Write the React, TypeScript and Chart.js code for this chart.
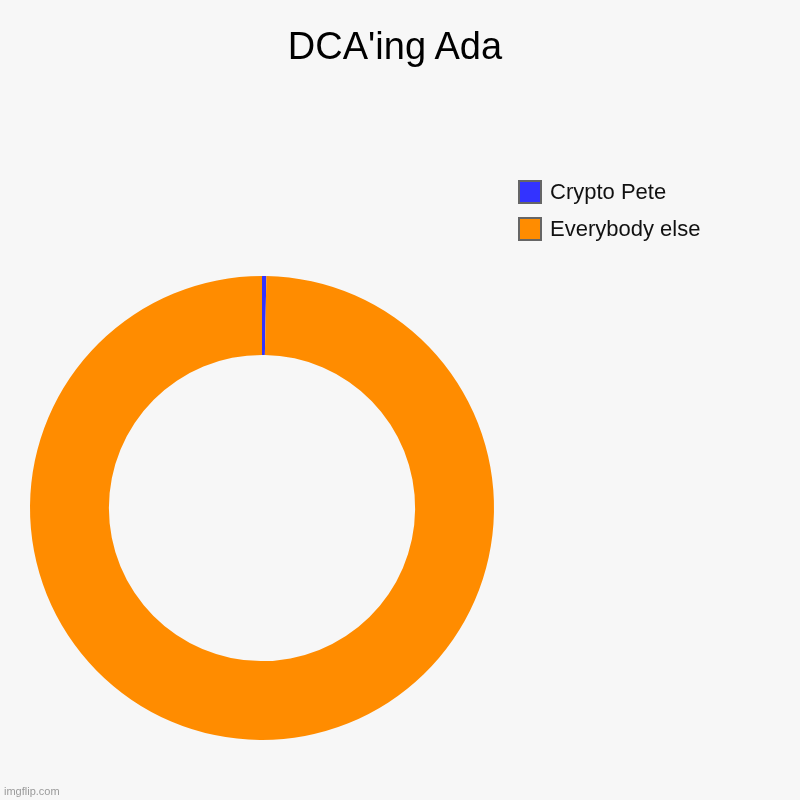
import { useEffect, useRef } from 'react';
import { Chart, registerables } from 'chart.js';

Chart.register(...registerables);

const TITLE = "DCA'ing Ada";
const labels = ['Crypto Pete', 'Everybody else'];
const values = [0.3, 99.7];
const colors = ['#3333ff', '#ff8c00'];

const BG = '#f7f7f7';
const FONT = 'Arial, "Liberation Sans", Helvetica, sans-serif';

export default function App(): JSX.Element {
  const canvasRef = useRef<HTMLCanvasElement>(null);
  const chartRef = useRef<Chart | null>(null);

  useEffect(() => {
    if (!canvasRef.current) return;
    if (chartRef.current) chartRef.current.destroy();

    chartRef.current = new Chart(canvasRef.current, {
      type: 'doughnut',
      data: {
        labels,
        datasets: [
          {
            data: values,
            backgroundColor: colors,
            borderWidth: 0,
          },
        ],
      },
      options: {
        responsive: true,
        maintainAspectRatio: false,
        animation: false,
        cutout: '66%',
        // donut sits in the lower-left square; legend and title are HTML
        layout: { padding: { left: 30, right: 306, top: 276, bottom: 60 } },
        plugins: {
          legend: { display: false },
          tooltip: { enabled: false },
          title: { display: false },
        },
      },
    });

    return () => { chartRef.current?.destroy(); };
  }, []);

  return (
    <div style={{ position: 'fixed', left: 0, top: 0, width: 800, height: 800, background: BG, fontFamily: FONT }}>
      <div style={{ position: 'absolute', left: 0, top: 0, width: 800, height: 800 }}>
        <canvas ref={canvasRef} role="img" aria-label={TITLE} />
      </div>
      <div style={{ position: 'absolute', left: -5, top: 27, width: 800, textAlign: 'center', fontSize: 38, lineHeight: '38px', color: '#000' }}>
        {TITLE}
      </div>
      <div style={{ position: 'absolute', left: 518, top: 180 }}>
        {labels.map((l, i) => (
          <div key={l} style={{ display: 'flex', alignItems: 'center', height: 24, marginBottom: 13 }}>
            <span style={{
              display: 'inline-block', width: 20, height: 20, background: colors[i],
              border: '2px solid #666', marginRight: 8,
            }} />
            <span style={{ fontSize: 22, color: '#111' }}>{l}</span>
          </div>
        ))}
      </div>
      <div style={{ position: 'absolute', left: 4, bottom: 3, fontSize: 11, color: '#9a9a9a' }}>imgflip.com</div>
    </div>
  );
}
